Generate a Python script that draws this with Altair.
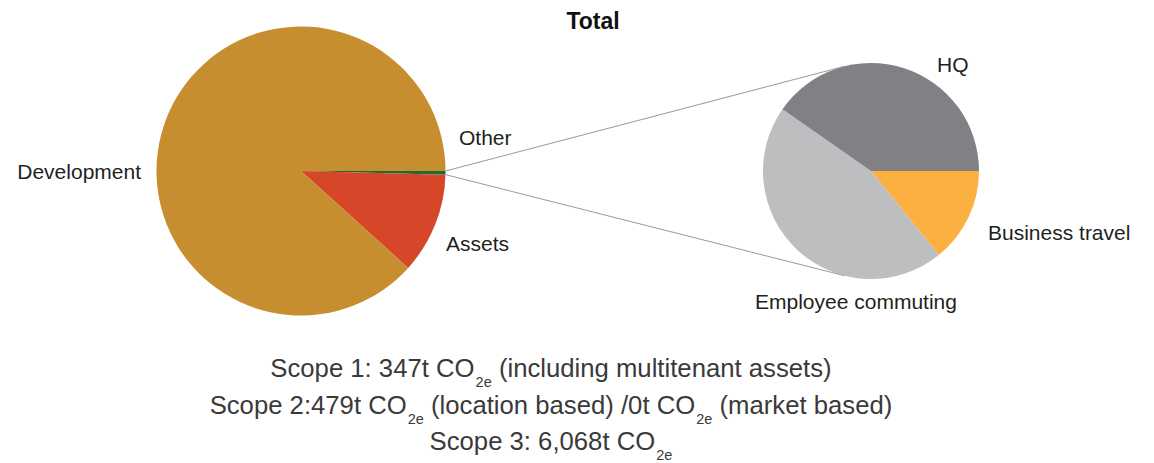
import math
import altair as alt
import pandas as pd

# ---------------- data ----------------
left_categories = ["Other", "Assets", "Development"]
left_values = [0.4, 11.3, 88.3]
left_colors = ["#1B6B3A", "#D64629", "#C68E2E"]

right_categories = ["Business travel", "Employee commuting", "HQ"]
right_values = [14.2, 45.5, 40.3]
right_colors = ["#FBB040", "#BCBEC0", "#808184"]

title_text = "Total"
scope_lines = [
    [("Scope 1: 347t CO", False), ("2e", True), ("(including multitenant assets)", False)],
    [("Scope 2:479t CO", False), ("2e", True), ("(location based) /0t CO", False), ("2e", True),
     ("(market based)", False)],
    [("Scope 3: 6,068t CO", False), ("2e", True)],
]

# ---------------- layout ----------------
W, H = 1138, 455
LCX, LCY, LR = 293, 163, 144.5
RCX, RCY, RR = 863, 163, 108
START = math.pi / 2
FONT = "Liberation Sans"
LABEL_SIZE = 21
MAIN_SIZE = 25.7
SUB_SIZE = 14.5
TEXT_COLOR = "#231F20"
SCOPE_COLOR = "#3A3A3A"
CENTER_X = 543
BASELINES = [369, 406, 442]
SUB_DROP = 9.5

# Arial / Liberation Sans advance widths (1/1000 em)
ADV = {" ": 278, "(": 333, ")": 333, ",": 278, "/": 278, ":": 278, "C": 722, "O": 778,
       "S": 667, "a": 556, "b": 556, "c": 500, "d": 556, "e": 556, "g": 556, "i": 222,
       "k": 500, "l": 222, "m": 833, "n": 556, "o": 556, "p": 556, "r": 333, "s": 500,
       "t": 278, "u": 556}
for dgt in "0123456789":
    ADV[dgt] = 556


def text_width(s, size):
    return sum(ADV.get(ch, 556) for ch in s) * size / 1000.0


def pie(cats, vals, cols, cx, cy, r):
    df = pd.DataFrame({"category": cats, "value": vals, "color": cols,
                       "order": list(range(len(cats)))})
    return alt.Chart(df).mark_arc(outerRadius=r).encode(
        theta=alt.Theta("value:Q", stack=True,
                        scale=alt.Scale(range=[START, START + 2 * math.pi])),
        order=alt.Order("order:Q"),
        color=alt.Color("color:N", scale=None),
        x=alt.value(cx),
        y=alt.value(cy),
    )


def label(t, x, y, size=LABEL_SIZE, align="left", weight="normal", color=TEXT_COLOR):
    return alt.Chart(pd.DataFrame({"t": [t]})).mark_text(
        align=align, baseline="alphabetic", font=FONT, fontSize=size,
        fontWeight=weight, color=color,
    ).encode(text="t:N", x=alt.value(x), y=alt.value(y))


# connector lines: from the edges of the "Other" slice to the tangents of the right pie
total_left = sum(left_values)
a0 = START
a1 = START + 2 * math.pi * left_values[0] / total_left
p_up = (LCX + LR * math.sin(a0), LCY - LR * math.cos(a0))
p_dn = (LCX + LR * math.sin(a1), LCY - LR * math.cos(a1))


def tangent(p, upper):
    dx, dy = p[0] - RCX, p[1] - RCY
    d = math.hypot(dx, dy)
    phi = math.atan2(dy, dx)
    alpha = math.acos(RR / d)
    ang = phi + alpha if upper else phi - alpha
    return (RCX + RR * math.cos(ang), RCY + RR * math.sin(ang))


t_up = tangent(p_up, True)
t_dn = tangent(p_dn, False)
if t_up[1] > RCY:
    t_up = tangent(p_up, False)
if t_dn[1] < RCY:
    t_dn = tangent(p_dn, True)

lines_df = pd.DataFrame({
    "x": [p_up[0], p_dn[0]], "y": [p_up[1], p_dn[1]],
    "x2": [t_up[0], t_dn[0]], "y2": [t_up[1], t_dn[1]],
})
connectors = alt.Chart(lines_df).mark_rule(color="#9A9A9A", strokeWidth=1).encode(
    x=alt.X("x:Q", scale=None), y=alt.Y("y:Q", scale=None),
    x2="x2:Q", y2="y2:Q",
)

layers = [pie(left_categories, left_values, left_colors, LCX, LCY, LR),
          pie(right_categories, right_values, right_colors, RCX, RCY, RR),
          connectors]

layers += [
    label(title_text, 585, 21, size=23, align="center", weight="bold", color="#111111"),
    label("Development", 133, 171, align="right"),
    label("Other", 451, 137),
    label("Assets", 438, 243),
    label("HQ", 929, 64),
    label("Business travel", 980, 232),
    label("Employee commuting", 747, 301),
]

# scope lines with subscripts
for segs, base in zip(scope_lines, BASELINES):
    pieces = []
    prev_sub = False
    for s, is_sub in segs:
        size = SUB_SIZE if is_sub else MAIN_SIZE
        gap = 0.0
        if pieces:
            gap = 1.0 if is_sub else (text_width(" ", MAIN_SIZE) if prev_sub else 0.0)
        pieces.append([s, is_sub, gap, text_width(s, size)])
        prev_sub = is_sub
    total_w = sum(p[2] + p[3] for p in pieces)
    x = CENTER_X - total_w / 2
    for s, is_sub, gap, w in pieces:
        x += gap
        if is_sub:
            layers.append(label(s, x, base + SUB_DROP, size=SUB_SIZE, color=SCOPE_COLOR))
        else:
            layers.append(label(s, x, base, size=MAIN_SIZE, color=SCOPE_COLOR))
        x += w

chart = alt.layer(*layers).resolve_scale(theta="independent").properties(
    width=W, height=H, padding=0, autosize=alt.AutoSizeParams(type="none"),
).configure_view(stroke=None)

chart.save("out.html", embed_options={"renderer": "svg", "actions": False})
